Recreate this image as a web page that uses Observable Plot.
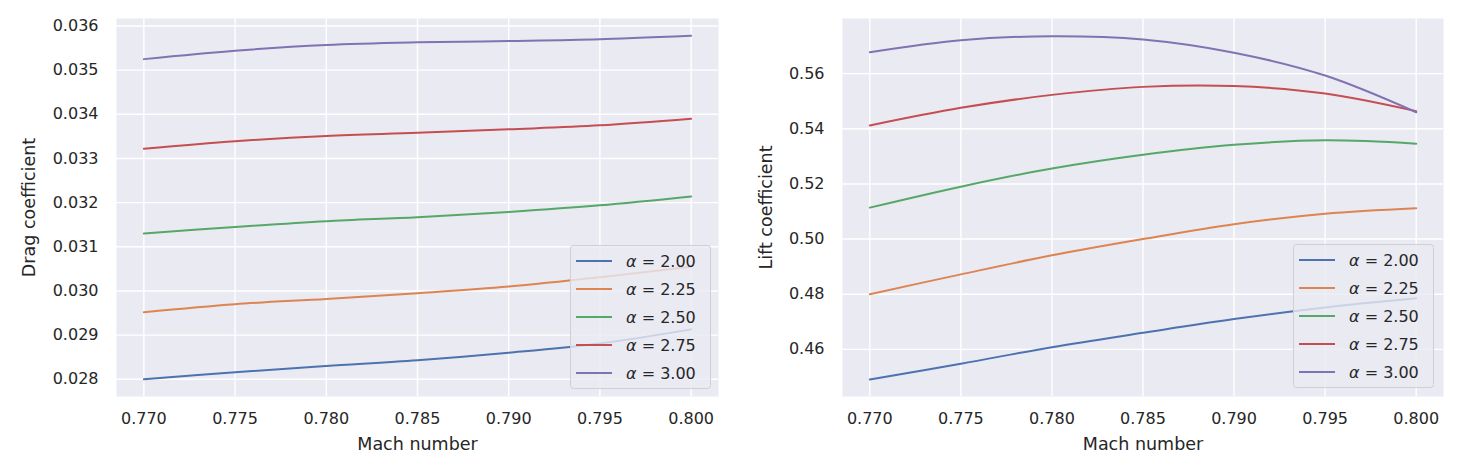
<!DOCTYPE html>
<html><head><meta charset="utf-8">
<script src="https://cdn.jsdelivr.net/npm/d3@7"></script>
<script src="https://cdn.jsdelivr.net/npm/@observablehq/plot@0.6"></script>
<style>
body{margin:0;background:#fff;font-family:"DejaVu Sans",sans-serif;}
#wrap{position:relative;width:1484px;height:464px;display:flex;}
#wrap svg g[aria-label$="axis label"]{font-size:17.5px;}
.legend{position:absolute;overflow:visible;}
</style></head><body><div id="wrap"></div>
<script>
const mach = [0.770, 0.775, 0.780, 0.785, 0.790, 0.795, 0.800];
const alphas = ["2.00", "2.25", "2.50", "2.75", "3.00"];
const colors = ["#4C72B0", "#DD8452", "#55A868", "#C44E52", "#8172B3"];

// Drag coefficient per angle of attack
const drag200 = [0.02800, 0.02816, 0.02830, 0.02843, 0.02860, 0.02881, 0.02913];
const drag225 = [0.02952, 0.02970, 0.02982, 0.02995, 0.03010, 0.03031, 0.03055];
const drag250 = [0.03130, 0.03145, 0.03158, 0.03167, 0.03179, 0.03194, 0.03214];
const drag275 = [0.03322, 0.03339, 0.03351, 0.03358, 0.03366, 0.03375, 0.03390];
const drag300 = [0.03525, 0.03544, 0.03557, 0.03563, 0.03566, 0.03570, 0.03578];

// Lift coefficient per angle of attack
const lift200 = [0.4491, 0.4548, 0.4608, 0.4660, 0.4710, 0.4752, 0.4785];
const lift225 = [0.4800, 0.4872, 0.4941, 0.5000, 0.5054, 0.5092, 0.5112];
const lift250 = [0.5114, 0.5190, 0.5256, 0.5306, 0.5342, 0.5358, 0.5346];
const lift275 = [0.5412, 0.5476, 0.5523, 0.5552, 0.5555, 0.5528, 0.5464];
const lift300 = [0.5678, 0.5721, 0.5736, 0.5724, 0.5676, 0.5593, 0.5460];

const dragTicks = [0.028, 0.029, 0.030, 0.031, 0.032, 0.033, 0.034, 0.035, 0.036];
const liftTicks = [0.46, 0.48, 0.50, 0.52, 0.54, 0.56];

function panel({series, yDomain, yTicks, yFormat, yLabel, marginLeft, marginRight, yLabelOffset}) {
  const rows = [];
  series.forEach((vals, i) => vals.forEach((v, j) => rows.push({mach: mach[j], v, alpha: alphas[i]})));
  return Plot.plot({
    width: 742, height: 464,
    marginTop: 18, marginBottom: 68, marginLeft, marginRight,
    style: {fontFamily: "DejaVu Sans", fontSize: "16px", color: "#262626", background: "transparent", overflow: "visible"},
    x: {domain: [0.7685, 0.8015]},
    y: {domain: yDomain},
    color: {domain: alphas, range: colors},
    marks: [
      Plot.frame({fill: "#EAEAF2", stroke: "none"}),
      Plot.gridX(mach, {stroke: "white", strokeOpacity: 1, strokeWidth: 1.4}),
      Plot.gridY(yTicks, {stroke: "white", strokeOpacity: 1, strokeWidth: 1.4}),
      Plot.axisX(mach, {tickFormat: d3.format(".3f"), tickSize: 0, tickPadding: 16, fill: "#262626",
        label: "Mach number", labelAnchor: "center", labelArrow: "none", labelOffset: 53}),
      Plot.axisY(yTicks, {tickFormat: d3.format(yFormat), tickSize: 0, tickPadding: 18, fill: "#262626",
        label: yLabel, labelAnchor: "center", labelArrow: "none", labelOffset: yLabelOffset}),
      Plot.line(rows, {x: "mach", y: "v", z: "alpha", stroke: "alpha", strokeWidth: 2, curve: "catmull-rom"})
    ]
  });
}

const wrap = document.getElementById("wrap");
wrap.append(panel({
  series: [drag200, drag225, drag250, drag275, drag300],
  yDomain: [0.02761, 0.03617], yTicks: dragTicks, yFormat: ".3f",
  yLabel: "Drag coefficient", marginLeft: 116, marginRight: 24, yLabelOffset: 94
}));
wrap.append(panel({
  series: [lift200, lift225, lift250, lift275, lift300],
  yDomain: [0.4429, 0.5800], yTicks: liftTicks, yFormat: ".2f",
  yLabel: "Lift coefficient", marginLeft: 100, marginRight: 41, yLabelOffset: 83
}));

function legend(left, top) {
  const svg = d3.select(wrap).append("svg").attr("class", "legend")
    .style("left", left + "px").style("top", top + "px")
    .attr("width", 141).attr("height", 144);
  svg.append("rect").attr("x", 0.5).attr("y", 0.5).attr("width", 140).attr("height", 143)
    .attr("rx", 3).attr("fill", "#EAEAF2").attr("fill-opacity", 0.8).attr("stroke", "#cfcfd6");
  alphas.forEach((a, i) => {
    const y = 16 + i * 28;
    svg.append("line").attr("x1", 6).attr("x2", 42).attr("y1", y).attr("y2", y)
      .attr("stroke", colors[i]).attr("stroke-width", 2);
    const t = svg.append("text").attr("x", 56).attr("y", y).attr("dy", "0.36em")
      .attr("fill", "#262626").style("font-family", "DejaVu Sans").style("font-size", "16px");
    t.append("tspan").attr("font-style", "italic").text("α");
    t.append("tspan").text(" = " + a);
  });
}
legend(570, 245);
legend(1293, 244);
</script></body></html>
